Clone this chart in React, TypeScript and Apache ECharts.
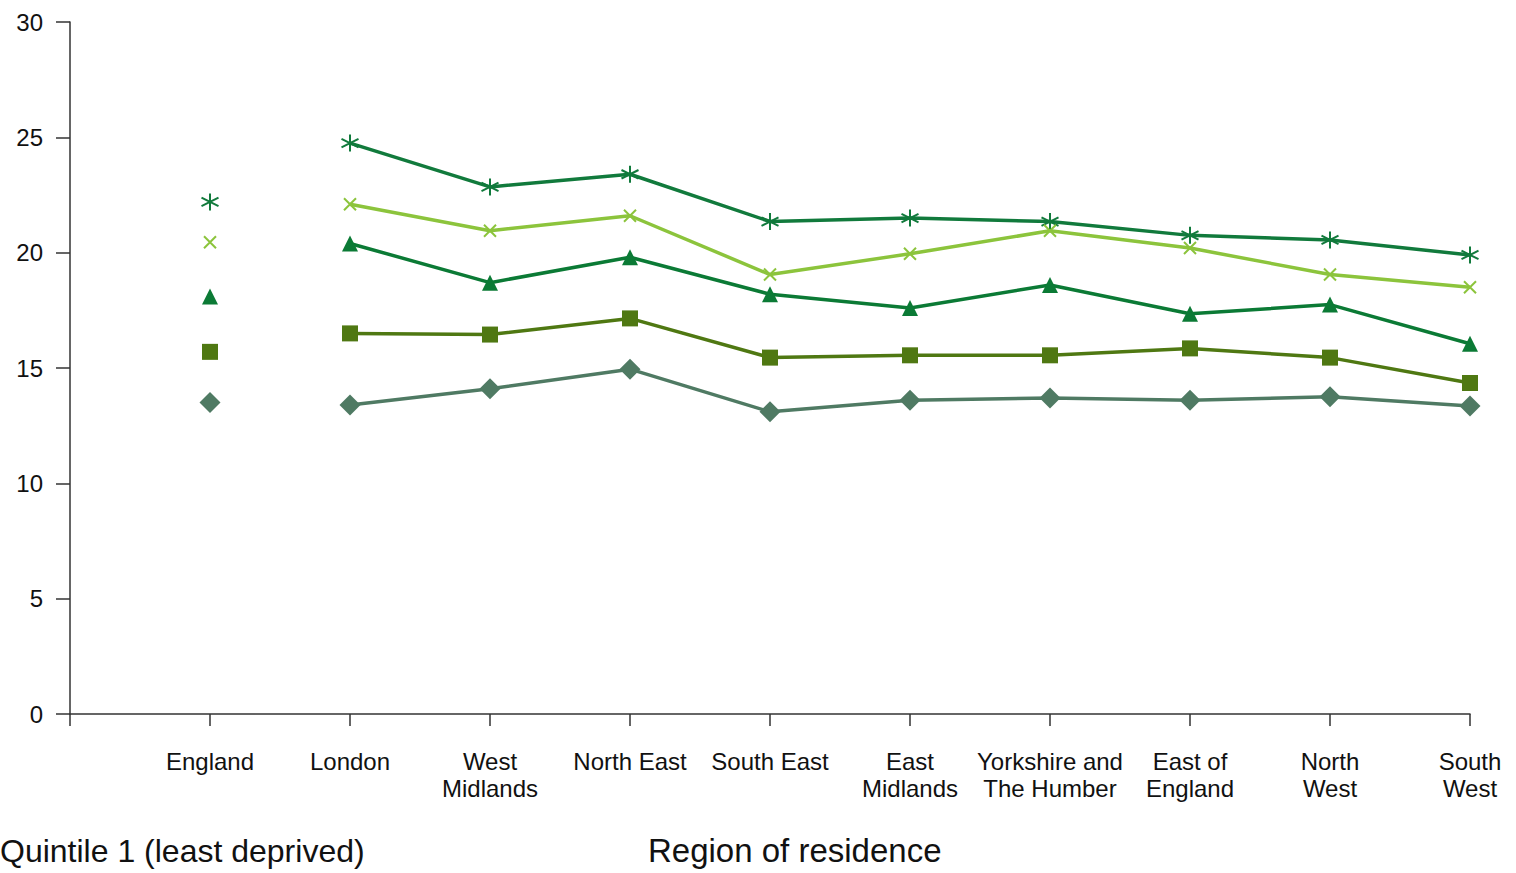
import React, { useEffect, useRef } from "react";
import * as echarts from "echarts";

const categories = [
  "",
  "England",
  "London",
  "West\nMidlands",
  "North East",
  "South East",
  "East\nMidlands",
  "Yorkshire and\nThe Humber",
  "East of\nEngland",
  "North\nWest",
  "South\nWest",
];

// England value first, then regions London..South West
const q5 = [22.2, 24.75, 22.85, 23.4, 21.35, 21.5, 21.35, 20.75, 20.55, 19.9];
const q4 = [20.45, 22.1, 20.95, 21.6, 19.05, 19.95, 20.95, 20.2, 19.05, 18.5];
const q3 = [18.1, 20.4, 18.7, 19.8, 18.2, 17.6, 18.6, 17.35, 17.75, 16.05];
const q2 = [15.7, 16.5, 16.45, 17.15, 15.45, 15.55, 15.55, 15.85, 15.45, 14.35];
const q1 = [13.5, 13.4, 14.1, 14.95, 13.1, 13.6, 13.7, 13.6, 13.75, 13.35];

const yTicks = [0, 5, 10, 15, 20, 25, 30];

const ASTERISK = "path://M0 -10 L0 10 M-8.66 -5 L8.66 5 M-8.66 5 L8.66 -5";
const CROSS = "path://M-10 -10 L10 10 M-10 10 L10 -10";

const seriesDefs = [
  { name: "Quintile 5", data: q5, color: "#117a3c", symbol: ASTERISK, size: 17, stroke: true },
  { name: "Quintile 4", data: q4, color: "#8cc43c", symbol: CROSS, size: 12, stroke: true },
  { name: "Quintile 3", data: q3, color: "#0b7a35", symbol: "triangle", size: 16, stroke: false },
  { name: "Quintile 2", data: q2, color: "#4f7812", symbol: "rect", size: 16, stroke: false },
  { name: "Quintile 1 (least deprived)", data: q1, color: "#4f7a63", symbol: "diamond", size: 21, stroke: false },
];

export default function App() {
  const ref = useRef<HTMLDivElement>(null);
  useEffect(() => {
    if (!ref.current) return;
    const chart = echarts.init(ref.current, null, { renderer: "svg" });
    const font = "'Liberation Sans', Arial, sans-serif";
    const series: any[] = [];
    seriesDefs.forEach((s) => {
      const itemStyle = s.stroke
        ? { color: s.color, borderColor: s.color, borderWidth: 2, opacity: 1 }
        : { color: s.color, opacity: 1 };
      const lineData = ["-", "-", ...s.data.slice(1)];
      series.push({
        type: "line",
        name: s.name,
        data: lineData,
        symbol: s.symbol,
        symbolSize: s.size,
        showAllSymbol: true,
        lineStyle: { color: s.color, width: 3.5 },
        itemStyle,
        z: 3,
      });
      series.push({
        type: "scatter",
        name: s.name + " England",
        data: [[1, s.data[0]]],
        symbol: s.symbol,
        symbolSize: s.size,
        itemStyle,
        z: 3,
      });
    });
    chart.setOption({
      animation: false,
      backgroundColor: "#ffffff",
      grid: { left: 70, right: 46, top: 22, bottom: 159, containLabel: false },
      xAxis: {
        type: "category",
        data: categories,
        boundaryGap: false,
        axisLine: { lineStyle: { color: "#333", width: 1.5 } },
        axisTick: { show: true, length: 12, alignWithLabel: true, lineStyle: { color: "#333", width: 1.5 } },
        axisLabel: {
          interval: 0,
          margin: 34,
          color: "#111",
          fontSize: 24,
          lineHeight: 27,
          fontFamily: font,
        },
        splitLine: { show: false },
      },
      yAxis: {
        type: "value",
        min: yTicks[0],
        max: yTicks[yTicks.length - 1],
        interval: 5,
        axisLine: { show: true, lineStyle: { color: "#333", width: 1.5 } },
        axisTick: { show: true, inside: false, length: 14, lineStyle: { color: "#333", width: 1.5 } },
        axisLabel: { color: "#111", fontSize: 24, margin: 27, fontFamily: font },
        splitLine: { show: false },
      },
      graphic: [
        {
          type: "text",
          left: 648,
          top: 834,
          style: { text: "Region of residence", fill: "#111", font: "33px " + font },
        },
        {
          type: "text",
          left: 0,
          top: 835,
          style: { text: "Quintile 1 (least deprived)", fill: "#111", font: "32px " + font },
        },
      ],
      series,
    });
    return () => chart.dispose();
  }, []);
  return <div ref={ref} style={{ width: 1516, height: 873, position: "absolute", left: 0, top: 0 }} />;
}
